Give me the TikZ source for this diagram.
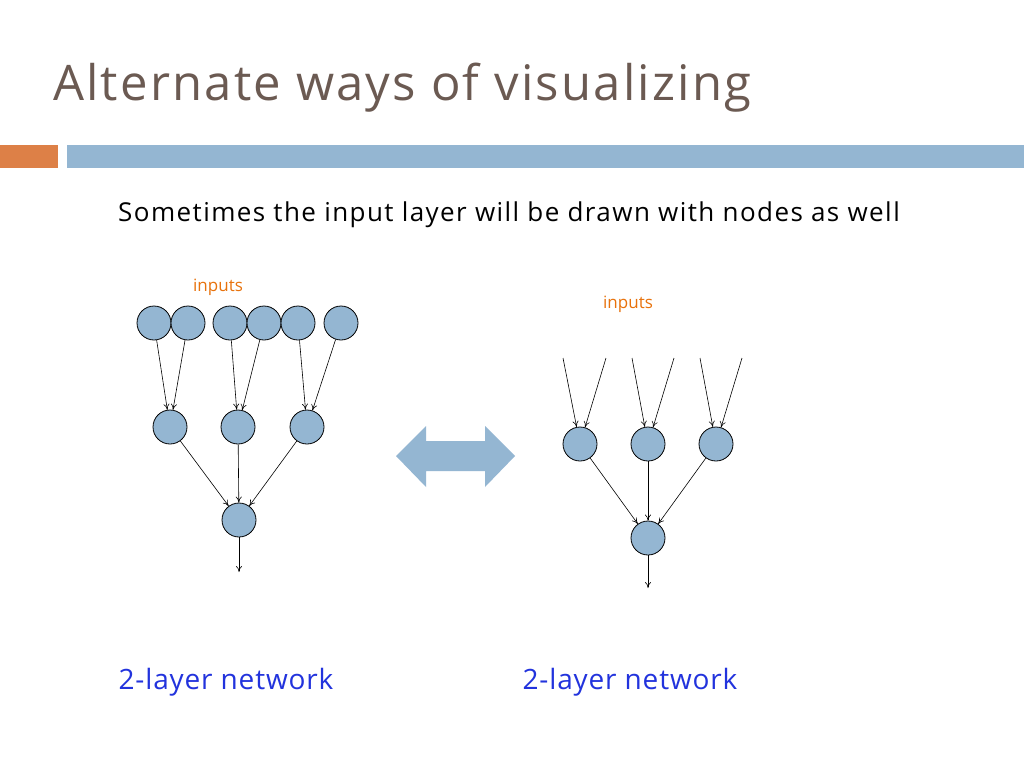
\documentclass[tikz,border=0pt]{standalone}
\usepackage{fontspec}
\setmainfont{Open Sans}
\usetikzlibrary{arrows.meta}
\definecolor{tbrown}{HTML}{6B5A52}
\definecolor{bor}{HTML}{DD8047}
\definecolor{bblue}{HTML}{94B6D2}
\definecolor{lblue}{HTML}{2233DD}
\definecolor{inorange}{HTML}{E8720C}
\tikzset{
  neuron/.style={circle,draw=black,fill=bblue,minimum size=34pt,inner sep=0pt,line width=0.8pt},
  edge/.style={-{To[length=6pt,width=6pt]},line width=0.6pt},
}
\begin{document}
\begin{tikzpicture}[x=1pt,y=-1pt]
\useasboundingbox (0,0) rectangle (1024,768);
\fill[white] (0,0) rectangle (1024,768);
\node[anchor=base west,text=tbrown,font=\fontsize{49}{56}\selectfont\addfontfeatures{LetterSpace=4.5},inner sep=0] (title) at (53,100) {Alternate ways of visualizing};
\fill[bor] (0,145) rectangle (58,168);
\fill[bblue] (67,145) rectangle (1024,168);
\node[font=\fontsize{26}{30}\selectfont\addfontfeatures{LetterSpace=5.5}] (sub) at (509,215) {Sometimes the input layer will be drawn with nodes as well};
% left network
\node[text=inorange,font=\fontsize{17}{22}\selectfont] (inl) at (218,287) {inputs};
\foreach \n/\x in {a/154,b/188,c/230,d/264,e/298,f/341} \node[neuron] (\n) at (\x,323) {};
\node[neuron] (h1) at (170,427) {};
\node[neuron] (h2) at (238,427) {};
\node[neuron] (h3) at (307,427) {};
\node[neuron] (o) at (239,520) {};
\coordinate (oend) at (239,572);
\draw[edge] (a) -- (h1); \draw[edge] (b) -- (h1);
\draw[edge] (c) -- (h2); \draw[edge] (d) -- (h2);
\draw[edge] (e) -- (h3); \draw[edge] (f) -- (h3);
\draw[edge] (h1) -- (o); \draw[edge] (h2) -- (o); \draw[edge] (h3) -- (o);
\draw[edge] (o) -- (oend);
% double arrow
\fill[bblue] (396,456) -- (426,426) -- (426,441) -- (485,441) -- (485,426) -- (515,456) -- (485,487) -- (485,471) -- (426,471) -- (426,487) -- cycle;
% right network
\node[text=inorange,font=\fontsize{17}{22}\selectfont] (inr) at (628,304) {inputs};
\node[neuron] (r1) at (580,444) {};
\node[neuron] (r2) at (648,444) {};
\node[neuron] (r3) at (716,444) {};
\node[neuron] (ro) at (648,538) {};
\coordinate (p1) at (563,358); \coordinate (p2) at (606,358);
\coordinate (p3) at (632,358); \coordinate (p4) at (674,358);
\coordinate (p5) at (700,358); \coordinate (p6) at (742,358);
\coordinate (roend) at (648,588);
\draw[edge] (p1) -- (r1); \draw[edge] (p2) -- (r1);
\draw[edge] (p3) -- (r2); \draw[edge] (p4) -- (r2);
\draw[edge] (p5) -- (r3); \draw[edge] (p6) -- (r3);
\draw[edge] (r1) -- (ro); \draw[edge] (r2) -- (ro); \draw[edge] (r3) -- (ro);
\draw[edge] (ro) -- (roend);
\node[text=lblue,font=\fontsize{28}{32}\selectfont\addfontfeatures{LetterSpace=3}] (l1) at (226,682) {2-layer network};
\node[text=lblue,font=\fontsize{28}{32}\selectfont\addfontfeatures{LetterSpace=3}] (l2) at (630,682) {2-layer network};
\end{tikzpicture}
\end{document}
